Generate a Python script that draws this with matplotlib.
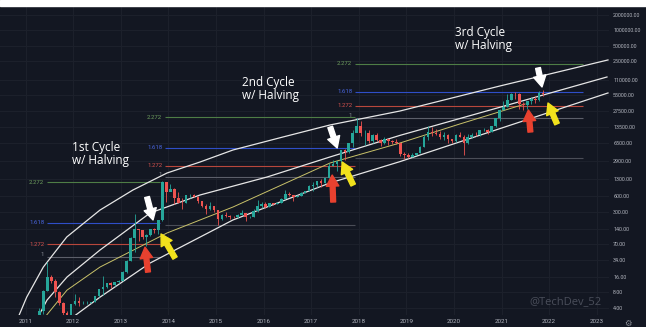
import numpy as np
import matplotlib.pyplot as plt
from matplotlib.patches import Rectangle

# monthly BTC candles, Apr 2011 .. Nov 2021 (open = previous close)
first_open = 0.78
month_high = [4.0, 8.9, 31.9, 17.5, 14.9, 8.6, 5.2, 3.5, 4.8,
              7.4, 6.4, 5.5, 5.4, 5.2, 6.9, 9.5, 16.4, 12.5, 12.8, 12.8, 13.9,
              20.8, 33.9, 95, 266, 140, 130, 110, 140, 141, 210, 1163, 1150,
              1020, 860, 720, 540, 635, 670, 660, 600, 490, 415, 460, 385,
              320, 265, 300, 260, 247, 267, 318, 285, 244, 335, 502, 465,
              460, 440, 440, 467, 550, 780, 705, 620, 630, 720, 755, 980,
              1150, 1200, 1290, 1360, 2700, 2980, 2920, 4750, 4980, 6470, 11400, 19700,
              17200, 11800, 11700, 9750, 9990, 7760, 8500, 7760, 7400, 7680, 6600, 4360,
              4150, 4200, 4150, 5640, 9100, 13900, 13200, 12330, 10950, 10500, 9500, 7750,
              9580, 10500, 9200, 9470, 10070, 10400, 11450, 12480, 12070, 14100, 19900, 29300,
              41950, 58350, 61800, 64850, 59600, 41300, 42300, 50500, 52900, 67000, 69000]
month_low = [0.67, 3.0, 8.7, 12.0, 6.5, 4.5, 2.1, 2.0, 2.8,
             4.6, 4.3, 4.7, 4.7, 4.9, 5.2, 6.5, 7.1, 9.7, 10.0, 10.5, 12.3,
             13.2, 19.1, 33, 50, 80, 88, 65, 102, 113, 108, 200, 470,
             750, 420, 440, 340, 440, 550, 570, 450, 365, 275, 320, 300,
             165, 210, 240, 215, 225, 221, 253, 199, 225, 235, 300, 347,
             355, 365, 405, 412, 440, 530, 600, 480, 570, 605, 690, 740,
             750, 920, 890, 1060, 1350, 2300, 1830, 2670, 2970, 4100, 5500, 10900,
             9000, 6000, 6500, 6430, 7050, 5780, 6070, 5880, 6100, 6100, 3650, 3150,
             3350, 3400, 3700, 4070, 5330, 7460, 9000, 9400, 7700, 7300, 6500, 6430,
             6870, 8450, 3850, 6150, 8120, 8900, 8980, 10950, 9880, 10400, 13200, 17600,
             28100, 32300, 45000, 47000, 30000, 28800, 29300, 37300, 39600, 43300, 53300]
month_close = [3.5, 8.7, 16.1, 13.4, 8.2, 5.1, 3.2, 2.97, 4.7,
               5.5, 4.9, 4.9, 5.0, 5.2, 6.7, 9.4, 10.2, 12.4, 11.2, 12.6, 13.5,
               20.4, 33.4, 93, 139, 129, 97, 106, 135, 133, 204, 1120, 732,
               830, 550, 450, 445, 630, 640, 585, 480, 388, 338, 378, 318,
               217, 254, 244, 236, 230, 263, 284, 230, 236, 314, 377, 430,
               368, 437, 416, 448, 531, 673, 624, 573, 608, 700, 742, 963,
               965, 1190, 1080, 1350, 2300, 2480, 2870, 4730, 4340, 6440, 10000, 13900,
               10200, 10300, 6930, 9240, 7490, 6390, 7730, 7030, 6630, 6370, 4020, 3740,
               3460, 3850, 4100, 5350, 8570, 10820, 10080, 9600, 8290, 9140, 7570, 7190,
               9350, 8540, 6410, 8630, 9450, 9140, 11350, 11650, 10780, 13800, 19700, 28950,
               33100, 45200, 58800, 57700, 37300, 35000, 41500, 47100, 43800, 61300, 57000]

# regression bands (year, price)
band_top_year = [2010.849, 2011.025, 2011.374, 2011.866, 2012.565, 2013.258, 2013.973,
                 2014.666, 2015.359, 2016.410, 2017.397, 2018.867, 2020.968, 2023.237]
band_top_price = [2.67, 6.5, 25, 96, 321, 789, 1687, 2760, 4730, 8470, 14500, 27100, 83200, 266700]
band_mid_year = [2011.263, 2011.452, 2011.872, 2012.565, 2013.616, 2014.666, 2016.074,
                 2017.397, 2018.867, 2020.968, 2023.216]
band_mid_price = [2.67, 5.7, 16.0, 53.6, 281, 630, 1410, 3460, 9100, 32100, 124400]
band_yel_year = [2011.410, 2011.872, 2012.565, 2013.973, 2015.359, 2017.397, 2018.867,
                 2020.128, 2021.493]
band_yel_price = [2.67, 8.9, 25, 115, 368, 2640, 6470, 15200, 37100]
band_low_year = [2011.998, 2012.565, 2013.616, 2015.359, 2017.397, 2018.867, 2020.968, 2023.237]
band_low_price = [2.67, 6.5, 29.9, 206, 1080, 2810, 12330, 60800]

# fib extension levels per cycle
fib_start = [2011.452, 2013.931, 2017.923]
fib_end = [2013.826, 2017.923, 2022.713]
fib_names = ['2.272', '1.618', '1.272', '1', '0']
fib_prices = [[1127, 180, 70, 39, None],
              [20700, 5170, 2310, 1400, 164],
              [222800, 63600, 34000, 19800, 3300]]
fib_line_colors = ['#4e7d46', '#2f4ec8', '#b8473c', '#5c5f6a', '#4a4d57']
fib_text_colors = ['#6f9f5f', '#4a66e0', '#d9534f', '#8a8d96', '#8a8d96']

cycle_titles = ['1st Cycle', '2nd Cycle', '3rd Cycle']
cycle_title_year = [2011.977, 2015.549, 2020.023]
cycle_title_price = [5170, 95100, 893000]
cycle_sub_price = [2890, 53100, 499000]

# arrows: tail -> tip
arrow_tail_year = [2013.553, 2013.574, 2014.141, 2017.401, 2017.464, 2017.884, 2021.767, 2021.607, 2022.166]
arrow_tail_price = [575, 20, 37.5, 13250, 460, 986, 186000, 10600, 15200]
arrow_tip_year = [2013.679, 2013.511, 2013.847, 2017.548, 2017.443, 2017.653, 2021.851, 2021.565, 2021.977]
arrow_tip_price = [206, 61, 110, 5170, 1540, 2760, 79500, 28400, 38800]
arrow_colors = ['white', '#e8412f', '#f2e21c'] * 3

ytick_vals = [2000000, 1000000, 500000, 250000, 110000, 55000, 27500, 13500, 6500, 2900,
              1300, 600, 300, 140, 70, 34, 16, 8, 4]
year_ticks = list(range(2011, 2024))

bg = '#131722'
fig = plt.figure(figsize=(6.46, 3.27), dpi=100, facecolor=bg)
fig.add_artist(Rectangle((0, 0.9817), 1, 0.0183, transform=fig.transFigure,
                         color='white', zorder=10))
ax = fig.add_axes([0, 0.0367, 0.9427, 0.945])
ax.set_facecolor(bg)
ax.set_yscale('log')
ax.set_xlim(2010.464, 2023.258)
ax.set_ylim(2.92, 2.99e6)
for s in ax.spines.values():
    s.set_visible(False)

for yr in year_ticks:
    ax.axvline(yr, color='#1d212c', lw=0.7, zorder=0)
for v in ytick_vals:
    ax.axhline(v, color='#1d212c', lw=0.7, zorder=0)

# fib levels
for c in range(3):
    for k, name in enumerate(fib_names):
        p = fib_prices[c][k]
        if p is None:
            continue
        ax.hlines(p, fib_start[c], fib_end[c], color=fib_line_colors[k], lw=0.8, zorder=1)
        if name != '0':
            va = 'bottom' if name == '1' else 'center'
            ax.annotate(name, (fib_start[c], p), xytext=(-2, 0), textcoords='offset points',
                        ha='right', va=va, fontsize=4.3, color=fib_text_colors[k],
                        family='Roboto')

# bands
ax.plot(band_top_year, band_top_price, color='#e6e6e6', lw=0.9, zorder=2)
ax.plot(band_mid_year, band_mid_price, color='#e6e6e6', lw=0.9, zorder=2)
ax.plot(band_yel_year, band_yel_price, color='#c9c26a', lw=0.7, zorder=2)
ax.plot(band_low_year, band_low_price, color='#e6e6e6', lw=0.9, zorder=2)

# candles
closes = np.array(month_close)
opens = np.concatenate([[first_open], closes[:-1]])
highs = np.array(month_high)
lows = np.array(month_low)
xs = 2011 + (3 + np.arange(len(closes)) + 0.5) / 12
cols = np.where(closes >= opens, '#26a69a', '#ef5350')
ax.vlines(xs, lows, highs, colors=cols, lw=0.6, zorder=3)
ax.bar(xs, np.abs(closes - opens), bottom=np.minimum(opens, closes), width=0.055,
       color=cols, zorder=3)

# cycle titles
for c in range(3):
    ax.text(cycle_title_year[c], cycle_title_price[c], cycle_titles[c], color='white',
            fontsize=8.5, family='Open Sans', ha='left', va='center', zorder=5)
    ax.text(cycle_title_year[c], cycle_sub_price[c], 'w/ Halving', color='white',
            fontsize=8.5, family='Open Sans', ha='left', va='center', zorder=5)

# arrows
for i in range(len(arrow_colors)):
    ax.annotate('', xy=(arrow_tip_year[i], arrow_tip_price[i]),
                xytext=(arrow_tail_year[i], arrow_tail_price[i]),
                arrowprops=dict(arrowstyle='simple,head_length=0.8,head_width=0.9,tail_width=0.35',
                                color=arrow_colors[i], shrinkA=0, shrinkB=0,
                                mutation_scale=10), zorder=6)

ax.yaxis.tick_right()
ax.set_yticks(ytick_vals)
ax.set_yticklabels([f'{v:.2f}' for v in ytick_vals])
ax.yaxis.set_minor_locator(plt.NullLocator())
ax.set_xticks(year_ticks)
ax.set_xticklabels([str(y) for y in year_ticks])
ax.tick_params(axis='both', length=0, labelcolor='#b2b5be')
ax.tick_params(axis='y', pad=3, labelsize=3.9)
ax.tick_params(axis='x', pad=3, labelsize=4.5)
for lab in ax.get_xticklabels() + ax.get_yticklabels():
    lab.set_family('Roboto')

ax.text(0.928, 0.042, '@TechDev_52', transform=ax.transAxes, ha='center', va='center',
        fontsize=8, color='#4a4e5a', family='Open Sans')
fig.text(0.972, 0.012, '\u2699', ha='center', va='center', fontsize=6, color='#8a8d96')

fig.savefig('out.png', dpi=100, facecolor=bg)
